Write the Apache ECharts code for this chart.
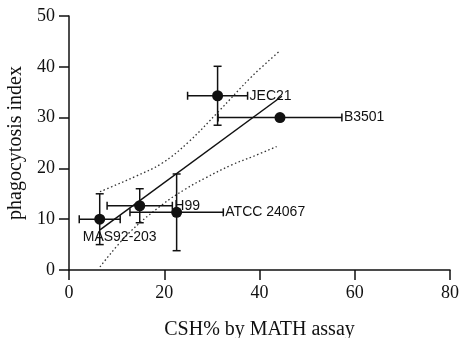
<!DOCTYPE html>
<html>
<head>
<meta charset="utf-8">
<script src="https://cdn.jsdelivr.net/npm/echarts@6/dist/echarts.min.js"></script>
<style>
  html, body { margin: 0; padding: 0; background: #fff; }
  #chart { width: 460px; height: 338px; }
</style>
</head>
<body>
<div id="chart"></div>
<script>
// strains with mean +/- error in both directions
const strains = ['MAS92-203', 'H99', 'ATCC 24067', 'JEC21', 'B3501']
const csh = [6.45, 14.85, 22.6, 31.2, 44.3]
const cshErr = [4.3, 6.85, 9.8, 6.3, 13.0]
const phago = [10.0, 12.65, 11.35, 34.3, 30.0]
const phagoErr = [5.0, 3.35, 7.55, 5.8, 0]

// regression line + 95% band
const fitX = [6.5, 44.7]
const fitY = [7.9, 34.2]
const upperX = [6.5, 10, 13.9, 19.5, 25.1, 31.4, 38.4, 44.0]
const upperY = [15.4, 16.8, 18.4, 21.0, 25.2, 31.2, 38.1, 42.9]
const lowerX = [6.5, 12.5, 19.5, 24.4, 28.6, 34.2, 38.5, 43.6]
const lowerY = [0.6, 7.2, 12.8, 15.9, 18.1, 20.7, 22.3, 24.3]

const xTicks = [0, 20, 40, 60, 80]
const yTicks = [0, 10, 20, 30, 40, 50]

const INK = '#111'
const serif = "'Liberation Serif', 'Times New Roman', serif"
const sans = "'Liberation Sans', Arial, sans-serif"

const chart = echarts.init(document.getElementById('chart'), null, { renderer: 'canvas' })

const zip = (xs, ys) => xs.map((x, i) => [x, ys[i]])

function renderErrorBar(params, api) {
  const i = api.value(4)
  const x = api.value(0), y = api.value(1)
  const ex = api.value(2), ey = api.value(3)
  const c = api.coord([x, y])
  const l = api.coord([x - ex, y])
  const r = api.coord([x + ex, y])
  const t = api.coord([x, y + ey])
  const b = api.coord([x, y - ey])
  const cap = 4
  const style = { stroke: INK, lineWidth: 1.5 }
  const children = []
  const seg = (x1, y1, x2, y2) => children.push({ type: 'line', shape: { x1, y1, x2, y2 }, style })
  if (ex > 0) {
    seg(l[0], l[1], r[0], r[1])
    seg(l[0], l[1] - cap, l[0], l[1] + cap)
    seg(r[0], r[1] - cap, r[0], r[1] + cap)
  }
  if (ey > 0) {
    seg(t[0], t[1], b[0], b[1])
    seg(t[0] - cap, t[1], t[0] + cap, t[1])
    seg(b[0] - cap, b[1], b[0] + cap, b[1])
  }
  const below = strains[i] === 'MAS92-203'
  children.push({
    type: 'text',
    style: {
      text: strains[i],
      x: below ? c[0] - 17 : r[0] + 2,
      y: below ? c[1] + 18 : c[1],
      verticalAlign: 'middle',
      align: 'left',
      fill: INK,
      font: '14px ' + sans
    }
  })
  return { type: 'group', children }
}

const option = {
  animation: false,
  grid: { left: 69, right: 10, top: 16, bottom: 68, outerBoundsMode: 'none' },
  xAxis: {
    type: 'value',
    min: xTicks[0],
    max: xTicks[xTicks.length - 1],
    interval: 20,
    name: 'CSH% by MATH assay',
    nameLocation: 'middle',
    nameGap: 50,
    nameTextStyle: { color: INK, fontFamily: serif, fontSize: 20 },
    axisLine: { lineStyle: { color: INK, width: 1.5 } },
    axisTick: { length: 10, lineStyle: { color: INK, width: 1.5 } },
    axisLabel: { color: INK, fontFamily: serif, fontSize: 18, margin: 14 },
    splitLine: { show: false }
  },
  yAxis: {
    type: 'value',
    min: yTicks[0],
    max: yTicks[yTicks.length - 1],
    interval: 10,
    name: 'phagocytosis index',
    nameLocation: 'middle',
    nameGap: 33,
    nameTextStyle: { color: INK, fontFamily: serif, fontSize: 20 },
    axisLine: { show: true, lineStyle: { color: INK, width: 1.5 } },
    axisTick: { show: true, length: 10, lineStyle: { color: INK, width: 1.5 } },
    axisLabel: { color: INK, fontFamily: serif, fontSize: 18, margin: 14 },
    splitLine: { show: false }
  },
  series: [
    {
      type: 'line',
      data: zip(upperX, upperY),
      smooth: 0.4,
      showSymbol: false,
      lineStyle: { color: '#333', width: 1.3, type: [1.5, 2.5] },
      z: 1
    },
    {
      type: 'line',
      data: zip(lowerX, lowerY),
      smooth: 0.4,
      showSymbol: false,
      lineStyle: { color: '#333', width: 1.3, type: [1.5, 2.5] },
      z: 1
    },
    {
      type: 'line',
      data: zip(fitX, fitY),
      showSymbol: false,
      lineStyle: { color: INK, width: 1.5 },
      z: 2
    },
    {
      type: 'custom',
      renderItem: renderErrorBar,
      data: csh.map((x, i) => [x, phago[i], cshErr[i], phagoErr[i], i]),
      encode: { x: 0, y: 1 },
      z: 3
    },
    {
      type: 'scatter',
      data: zip(csh, phago),
      symbolSize: 11,
      itemStyle: { color: INK, opacity: 1 },
      z: 4
    }
  ]
}

chart.setOption(option)
</script>
</body>
</html>
